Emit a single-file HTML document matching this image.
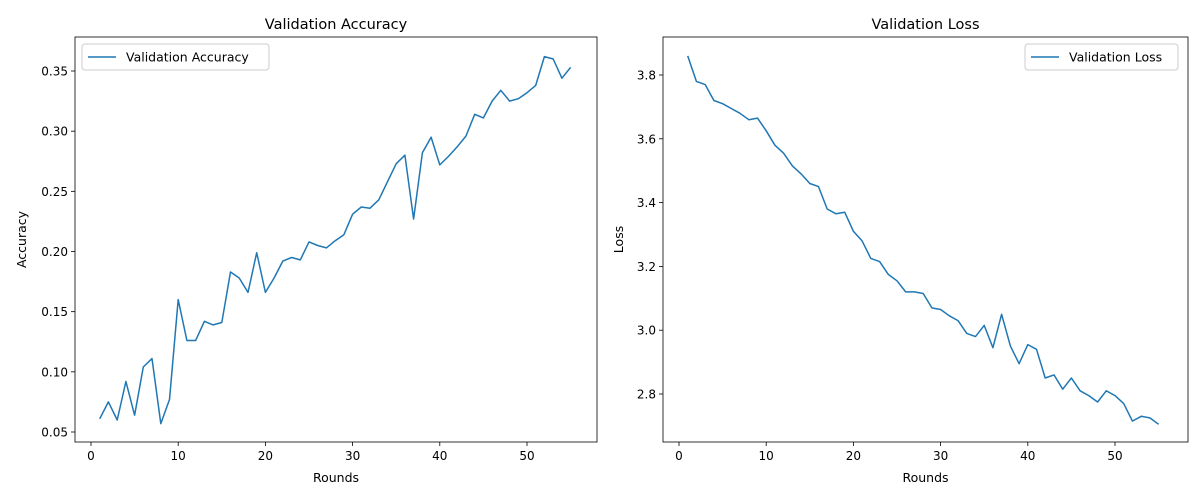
<!DOCTYPE html>
<html><head><meta charset="utf-8"><style>
body{margin:0;background:#fff;}
svg{display:block;font-family:"DejaVu Sans","Liberation Sans",sans-serif;}
</style></head><body>
<svg id="c" width="1200" height="500" xmlns="http://www.w3.org/2000/svg"></svg>
<script>
const rounds = Array.from({length:55},(_,i)=>i+1);
const accuracy = [0.061,0.075,0.060,0.092,0.064,0.104,0.111,0.057,0.077,0.160,0.126,0.126,0.142,0.139,0.141,0.183,0.178,0.166,0.199,0.166,0.178,0.192,0.195,0.193,0.208,0.205,0.203,0.209,0.214,0.231,0.237,0.236,0.243,0.258,0.273,0.280,0.227,0.282,0.295,0.272,0.279,0.287,0.296,0.314,0.311,0.325,0.334,0.325,0.327,0.332,0.338,0.362,0.360,0.344,0.353];
const loss = [3.86,3.78,3.77,3.72,3.71,3.695,3.68,3.66,3.665,3.625,3.58,3.555,3.515,3.49,3.46,3.45,3.38,3.365,3.37,3.31,3.28,3.225,3.215,3.175,3.155,3.12,3.12,3.115,3.07,3.065,3.045,3.03,2.99,2.98,3.015,2.945,3.05,2.95,2.895,2.955,2.94,2.85,2.86,2.815,2.85,2.81,2.795,2.775,2.81,2.795,2.77,2.715,2.73,2.725,2.705];
const xTicks = [0,10,20,30,40,50];
const accTicks = [0.05,0.10,0.15,0.20,0.25,0.30,0.35];
const lossTicks = [2.8,3.0,3.2,3.4,3.6,3.8];

const svg = document.getElementById('c');
const NS = 'http://www.w3.org/2000/svg';
function mk(tag, attrs, parent){const e=document.createElementNS(NS,tag);for(const k in attrs)e.setAttribute(k,attrs[k]);(parent||svg).appendChild(e);return e;}

function panel(cfg){
  const g = mk('g',{});
  
  
  const L=cfg.left,R=cfg.right,T=37,B=442;
  const sx = v => cfg.x0px + (v)*cfg.xs;
  const sy = v => cfg.y0px - (v-cfg.y0)*cfg.ys;
  // ticks
  xTicks.forEach(t=>{
    const x=sx(t);
    const l=mk('line',{x1:x,x2:x,y1:B,y2:B+4,stroke:'#000','stroke-width':0.8},g);
    
    
    const tx=mk('text',{x:x,y:B+18,'text-anchor':'middle','font-size':12,fill:'#000'},g);
    tx.textContent=t;
    
    
  });
  cfg.yTicks.forEach(t=>{
    const y=sy(t);
    const l=mk('line',{x1:L-4,x2:L,y1:y,y2:y,stroke:'#000','stroke-width':0.8},g);
    
    
    const tx=mk('text',{x:L-7,y:y+4.5,'text-anchor':'end','font-size':12,fill:'#000'},g);
    tx.textContent=t.toFixed(cfg.dec);
    
    
  });
  const pts = rounds.map((r,i)=>sx(r).toFixed(1)+','+sy(cfg.data[i]).toFixed(1)).join(' ');
  const line=mk('polyline',{points:pts,fill:'none',stroke:'#1f77b4','stroke-width':1.5,'stroke-linejoin':'round'},g);
  
  
  const box=mk('rect',{x:L,y:T,width:R-L,height:B-T,fill:'none',stroke:'#000','stroke-width':0.8},g);
  
  
  const title=mk('text',{x:(L+R)/2,y:29,'text-anchor':'middle','font-size':14.5,fill:'#000'},g);
  title.textContent=cfg.title;
  
  
  const xl=mk('text',{x:(L+R)/2,y:482,'text-anchor':'middle','font-size':12.5,fill:'#000'},g);
  xl.textContent='Rounds';
  
  
  const yl=mk('text',{x:0,y:0,'text-anchor':'middle','font-size':12.5,fill:'#000',transform:`translate(${cfg.ylx},${(T+B)/2}) rotate(-90)`},g);
  yl.textContent=cfg.ylabel;
  
  
  // legend
  const lg=mk('g',{},g);
  
  
  mk('rect',{x:cfg.lgx,y:44,width:cfg.lgw,height:26,rx:3,fill:'#fff',stroke:'#ccc','stroke-width':1},lg);
  mk('line',{x1:cfg.lgx+6,x2:cfg.lgx+34,y1:57,y2:57,stroke:'#1f77b4','stroke-width':1.5},lg);
  const lt=mk('text',{x:cfg.lgx+44,y:61.5,'font-size':12.5,fill:'#000'},lg);
  lt.textContent=cfg.title;
  
  
}
panel({name:'accuracy',left:75,right:597,x0px:91,xs:8.72,y0:0.05,y0px:432,ys:1203.3,yTicks:accTicks,dec:2,data:accuracy,title:'Validation Accuracy',ylabel:'Accuracy',ylx:26,lgx:82,lgw:187});
panel({name:'loss',left:663,right:1188,x0px:679,xs:8.72,y0:2.8,y0px:394,ys:319,yTicks:lossTicks,dec:1,data:loss,title:'Validation Loss',ylabel:'Loss',ylx:623,lgx:1025,lgw:153});
</script>
</body></html>
